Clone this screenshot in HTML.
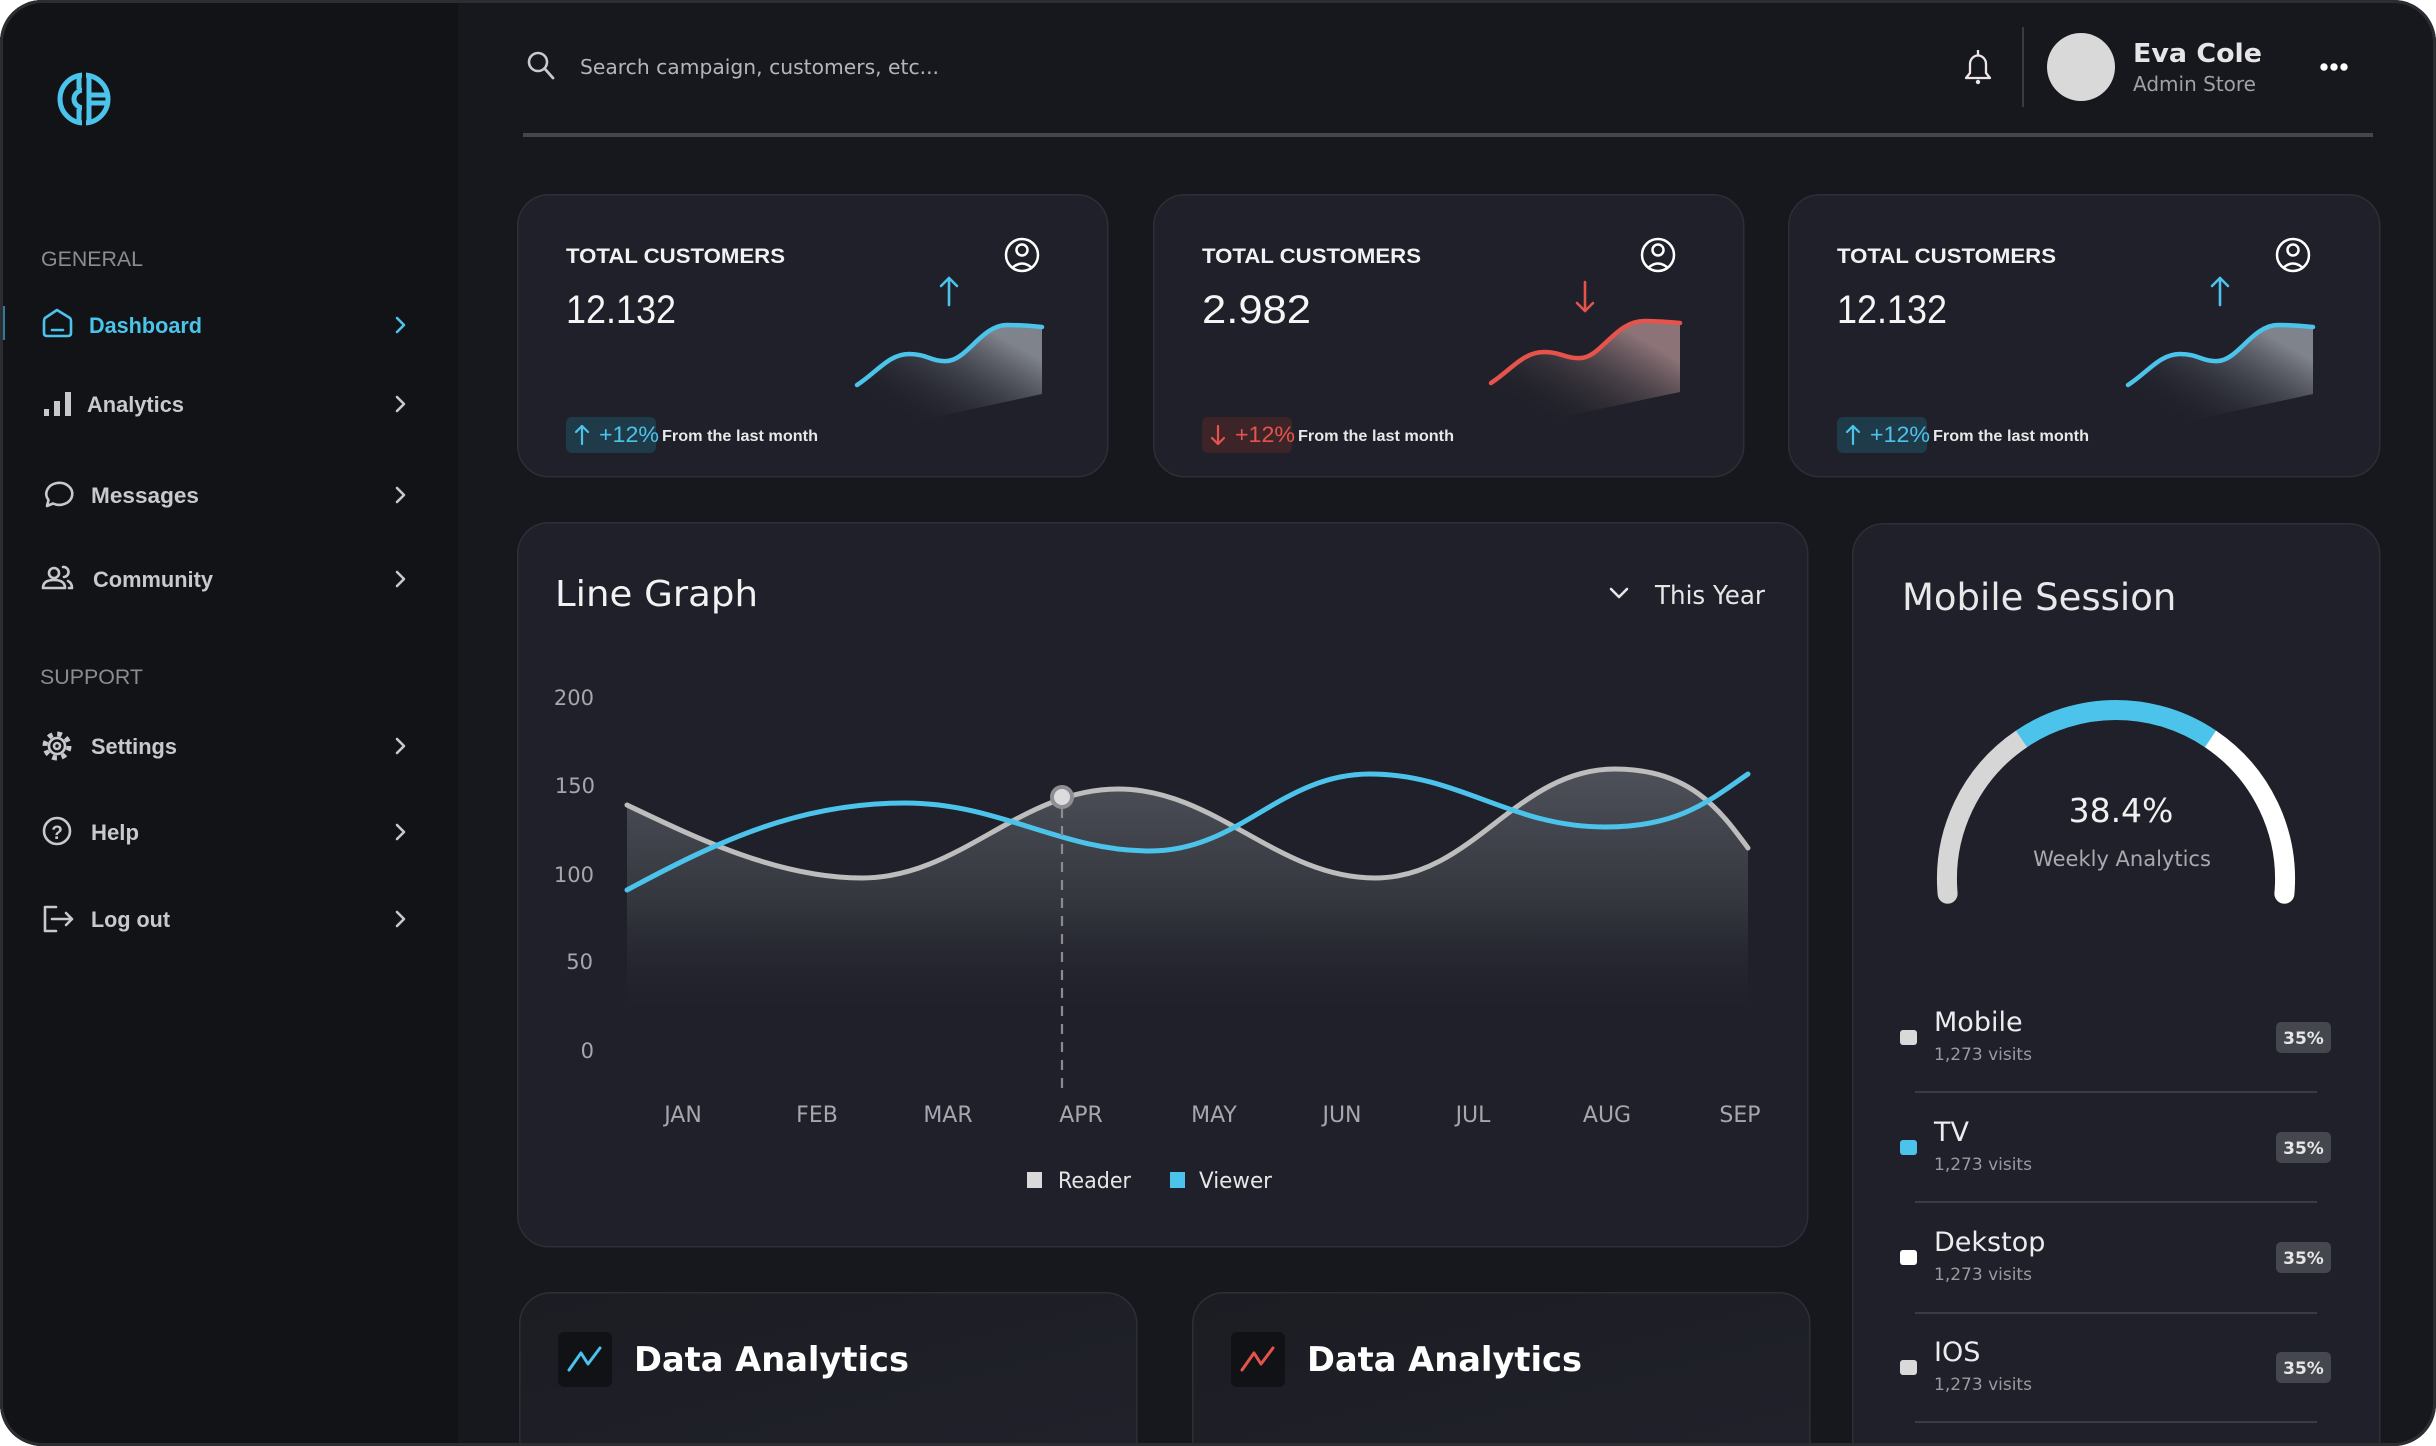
<!DOCTYPE html>
<html><head><meta charset="utf-8"><style>
html,body{margin:0;padding:0;background:#ffffff;overflow:hidden;width:2436px;height:1446px;}
svg{display:block}
</style></head><body>
<svg width="2436" height="1446" viewBox="0 0 2436 1446" xmlns="http://www.w3.org/2000/svg">
<defs>
<clipPath id="frame"><rect x="0" y="0" width="2436" height="1446" rx="42"/></clipPath>
<linearGradient id="area" gradientUnits="userSpaceOnUse" x1="0" y1="765" x2="0" y2="1025">
<stop offset="0" stop-color="#50525b"/><stop offset="0.55" stop-color="#33353d"/><stop offset="1" stop-color="#1f2029" stop-opacity="0"/>
</linearGradient>
<linearGradient id="sparkB" gradientUnits="userSpaceOnUse" x1="470" y1="135" x2="410" y2="240">
<stop offset="0" stop-color="#8a8e97" stop-opacity="0.9"/><stop offset="1" stop-color="#1f2029" stop-opacity="0"/>
</linearGradient>
<linearGradient id="sparkR" gradientUnits="userSpaceOnUse" x1="470" y1="135" x2="410" y2="240">
<stop offset="0" stop-color="#977c80" stop-opacity="0.9"/><stop offset="1" stop-color="#1f2029" stop-opacity="0"/>
</linearGradient>
<linearGradient id="botcard" x1="0" y1="0" x2="1" y2="1">
<stop offset="0" stop-color="#1c1d23"/><stop offset="1" stop-color="#20212a"/>
</linearGradient>
<clipPath id="uc"><circle cx="505" cy="61" r="16"/></clipPath>
</defs>

<g clip-path="url(#frame)">
<rect width="2436" height="1446" fill="#17181e"/>
<rect width="458" height="1446" fill="#121317"/>

<!-- logo -->
<g fill="none" stroke="#4cc3ea" stroke-width="5">
<circle cx="84" cy="99" r="24"/>
<path d="M84,108 A10,9 0 0 1 84,90"/>
<line x1="89" y1="95" x2="107" y2="95"/>
<line x1="89" y1="103" x2="107" y2="103"/>
<line x1="89" y1="77" x2="89" y2="121"/>
<line x1="79" y1="77" x2="79" y2="89"/>
<line x1="79" y1="109" x2="79" y2="121"/>
</g>
<rect x="82" y="70" width="4" height="58" fill="#121317"/>

<!-- sidebar nav -->
<g font-family="Liberation Sans, Arial, sans-serif">
<text x="41" y="266" font-size="21" fill="#8b8c91" textLength="102" lengthAdjust="spacingAndGlyphs">GENERAL</text>
<rect x="1" y="306" width="4" height="34" fill="#2e7d98"/>
<text x="89" y="333" font-size="22" font-weight="bold" fill="#4cc3ea" textLength="113" lengthAdjust="spacingAndGlyphs">Dashboard</text>
<text x="87" y="412" font-size="22" font-weight="bold" fill="#c8c9cc" textLength="97" lengthAdjust="spacingAndGlyphs">Analytics</text>
<text x="91" y="503" font-size="22" font-weight="bold" fill="#c8c9cc" textLength="108" lengthAdjust="spacingAndGlyphs">Messages</text>
<text x="93" y="587" font-size="22" font-weight="bold" fill="#c8c9cc" textLength="120" lengthAdjust="spacingAndGlyphs">Community</text>
<text x="40" y="684" font-size="21" fill="#8b8c91" textLength="103" lengthAdjust="spacingAndGlyphs">SUPPORT</text>
<text x="91" y="754" font-size="22" font-weight="bold" fill="#c8c9cc" textLength="86" lengthAdjust="spacingAndGlyphs">Settings</text>
<text x="91" y="840" font-size="22" font-weight="bold" fill="#c8c9cc" textLength="48" lengthAdjust="spacingAndGlyphs">Help</text>
<text x="91" y="927" font-size="22" font-weight="bold" fill="#c8c9cc" textLength="79" lengthAdjust="spacingAndGlyphs">Log out</text>
</g>
<g fill="none" stroke-width="2.6" stroke-linecap="round" stroke-linejoin="round">
<path d="M45,318 L57,310 L70,318 Q71,319 71,322 V333 Q71,336 68,336 H47 Q44,336 44,333 V322 Q44,319 45,318 Z" stroke="#4cc3ea"/>
<line x1="52" y1="330" x2="63" y2="330" stroke="#4cc3ea"/>
<polyline points="397,318 404,325 397,332" stroke="#4cc3ea"/>
<g stroke="#c8c9cc">
<path d="M47,506 L48.5,500 A13,11 0 1 1 53,503.5 Z"/>
<circle cx="54" cy="573" r="5"/>
<path d="M43,588 Q43,580 54,580 Q65,580 65,588 Z"/>
<path d="M63,567 A5,5 0 0 1 64,577"/>
<path d="M68,581 Q72,583 72,588 H69"/>
<circle cx="57" cy="746" r="8"/>
<circle cx="57" cy="746" r="12" stroke-width="5" stroke-dasharray="4.7 4.7" stroke-linecap="butt"/>
<circle cx="57" cy="746" r="3"/>
<circle cx="57" cy="831" r="13"/>
<path d="M56,907 H45 V931 H56"/>
<path d="M52,919 H72 M66,913 L72,919 L66,925"/>
<polyline points="397,397 404,404 397,411"/>
<polyline points="397,488 404,495 397,502"/>
<polyline points="397,572 404,579 397,586"/>
<polyline points="397,739 404,746 397,753"/>
<polyline points="397,825 404,832 397,839"/>
<polyline points="397,912 404,919 397,926"/>
</g>
</g>
<rect x="44" y="409" width="5" height="7" fill="#c8c9cc"/>
<rect x="54" y="401" width="6" height="15" fill="#c8c9cc"/>
<rect x="65" y="392" width="6" height="24" fill="#c8c9cc"/>
<text x="57" y="839" font-family="Liberation Sans, Arial, sans-serif" font-size="19" font-weight="bold" fill="#c8c9cc" text-anchor="middle">?</text>

<!-- header -->
<circle cx="538" cy="62" r="9" fill="none" stroke="#c8c9cc" stroke-width="2.6"/>
<line x1="545" y1="69" x2="553" y2="78" stroke="#c8c9cc" stroke-width="2.8" stroke-linecap="round"/>
<text x="580" y="74" font-family="DejaVu Sans, sans-serif" font-size="20" fill="#b4b5b9" textLength="359" lengthAdjust="spacingAndGlyphs">Search campaign, customers, etc...</text>
<g fill="none" stroke="#efe5e5" stroke-width="2.3" stroke-linejoin="round">
<path d="M1966,78 H1990 L1986,73 V64 A8,8.5 0 0 0 1970,64 V73 Z"/>
<line x1="1978" y1="50" x2="1978" y2="55"/>
</g>
<circle cx="1978" cy="82" r="2.2" fill="#efe5e5"/>
<rect x="2022" y="27" width="2" height="80" fill="#3a3b40"/>
<circle cx="2081" cy="67" r="34" fill="#d9d9d9"/>
<text x="2133" y="62" font-family="DejaVu Sans, sans-serif" font-weight="bold" font-size="26" fill="#e6e6e6" textLength="129" lengthAdjust="spacingAndGlyphs">Eva Cole</text>
<text x="2133" y="91" font-family="DejaVu Sans, sans-serif" font-size="20" fill="#a0a1a5" textLength="123" lengthAdjust="spacingAndGlyphs">Admin Store</text>
<circle cx="2324" cy="67" r="3.7" fill="#ffffff"/>
<circle cx="2334" cy="67" r="3.7" fill="#ffffff"/>
<circle cx="2344" cy="67" r="3.7" fill="#ffffff"/>
<rect x="523" y="133" width="1850" height="4" fill="#44464c"/>

<!-- KPI card 1 -->
<g transform="translate(517,194)">
<rect x="0.75" y="0.75" width="590" height="282" rx="31" fill="#1f2029" stroke="#2d2e36" stroke-width="1.5"/>
<text x="49" y="69" font-family="Liberation Sans, Arial, sans-serif" font-weight="bold" font-size="21" fill="#f2f2f2" textLength="219" lengthAdjust="spacingAndGlyphs">TOTAL CUSTOMERS</text>
<text x="49" y="129" font-family="Liberation Sans, Arial, sans-serif" font-size="40" fill="#f5f5f5" textLength="110" lengthAdjust="spacingAndGlyphs">12.132</text>
<g fill="none" stroke="#ffffff" stroke-width="2.5">
<circle cx="505" cy="61" r="16"/><circle cx="505" cy="56" r="5.5"/>
<path d="M493,76 Q505,63 517,76" clip-path="url(#uc)"/>
</g>
<g fill="none" stroke="#4cc3ea" stroke-width="2.6" stroke-linecap="round" stroke-linejoin="round">
<line x1="432" y1="84" x2="432" y2="111"/><polyline points="424,92 432,84 440,92"/>
</g>
<path d="M340,191 C360,178 372,160 392,160 C410,160 415,168 430,167 C450,166 465,131 490,131 C505,131 515,132 525,133 L525,200 L340,240 Z" fill="url(#sparkB)"/>
<path d="M340,191 C360,178 372,160 392,160 C410,160 415,168 430,167 C450,166 465,131 490,131 C505,131 515,132 525,133" fill="none" stroke="#4cc3ea" stroke-width="4.5" stroke-linecap="round"/>
<rect x="49" y="223" width="90" height="36" rx="6" fill="#1f3a48"/>
<g fill="none" stroke="#4cc3ea" stroke-width="2.2" stroke-linecap="round" stroke-linejoin="round">
<line x1="65" y1="232" x2="65" y2="250"/><polyline points="59,238 65,232 71,238"/>
</g>
<text x="82" y="248" font-family="Liberation Sans, Arial, sans-serif" font-size="22" fill="#4cc3ea" textLength="60" lengthAdjust="spacingAndGlyphs">+12%</text>
<text x="145" y="247" font-family="Liberation Sans, Arial, sans-serif" font-weight="bold" font-size="16" fill="#e8e8e8" textLength="156" lengthAdjust="spacingAndGlyphs">From the last month</text>
</g>

<!-- KPI card 2 -->
<g transform="translate(1153,194)">
<rect x="0.75" y="0.75" width="590" height="282" rx="31" fill="#1f2029" stroke="#2d2e36" stroke-width="1.5"/>
<text x="49" y="69" font-family="Liberation Sans, Arial, sans-serif" font-weight="bold" font-size="21" fill="#f2f2f2" textLength="219" lengthAdjust="spacingAndGlyphs">TOTAL CUSTOMERS</text>
<text x="49" y="129" font-family="Liberation Sans, Arial, sans-serif" font-size="40" fill="#f5f5f5" textLength="109" lengthAdjust="spacingAndGlyphs">2.982</text>
<g fill="none" stroke="#ffffff" stroke-width="2.5">
<circle cx="505" cy="61" r="16"/><circle cx="505" cy="56" r="5.5"/>
<path d="M493,76 Q505,63 517,76" clip-path="url(#uc)"/>
</g>
<g fill="none" stroke="#e5534b" stroke-width="2.6" stroke-linecap="round" stroke-linejoin="round">
<line x1="432" y1="88" x2="432" y2="117"/><polyline points="424,109 432,117 440,109"/>
</g>
<path d="M338,189 C358,176 370,158 391,158 C408,158 413,165 428,164 C448,163 463,127 491,127 C505,127 515,128 527,129 L527,198 L338,238 Z" fill="url(#sparkR)"/>
<path d="M338,189 C358,176 370,158 391,158 C408,158 413,165 428,164 C448,163 463,127 491,127 C505,127 515,128 527,129" fill="none" stroke="#e5534b" stroke-width="4.5" stroke-linecap="round"/>
<rect x="49" y="223" width="90" height="36" rx="6" fill="#3d2428"/>
<g fill="none" stroke="#e5534b" stroke-width="2.2" stroke-linecap="round" stroke-linejoin="round">
<line x1="65" y1="232" x2="65" y2="250"/><polyline points="59,244 65,250 71,244"/>
</g>
<text x="82" y="248" font-family="Liberation Sans, Arial, sans-serif" font-size="22" fill="#e5534b" textLength="60" lengthAdjust="spacingAndGlyphs">+12%</text>
<text x="145" y="247" font-family="Liberation Sans, Arial, sans-serif" font-weight="bold" font-size="16" fill="#e8e8e8" textLength="156" lengthAdjust="spacingAndGlyphs">From the last month</text>
</g>

<!-- KPI card 3 -->
<g transform="translate(1788,194)">
<rect x="0.75" y="0.75" width="591" height="282" rx="31" fill="#1f2029" stroke="#2d2e36" stroke-width="1.5"/>
<text x="49" y="69" font-family="Liberation Sans, Arial, sans-serif" font-weight="bold" font-size="21" fill="#f2f2f2" textLength="219" lengthAdjust="spacingAndGlyphs">TOTAL CUSTOMERS</text>
<text x="49" y="129" font-family="Liberation Sans, Arial, sans-serif" font-size="40" fill="#f5f5f5" textLength="110" lengthAdjust="spacingAndGlyphs">12.132</text>
<g fill="none" stroke="#ffffff" stroke-width="2.5">
<circle cx="505" cy="61" r="16"/><circle cx="505" cy="56" r="5.5"/>
<path d="M493,76 Q505,63 517,76" clip-path="url(#uc)"/>
</g>
<g fill="none" stroke="#4cc3ea" stroke-width="2.6" stroke-linecap="round" stroke-linejoin="round">
<line x1="432" y1="84" x2="432" y2="111"/><polyline points="424,92 432,84 440,92"/>
</g>
<path d="M340,191 C360,178 372,160 392,160 C410,160 415,168 430,167 C450,166 465,131 490,131 C505,131 515,132 525,133 L525,200 L340,240 Z" fill="url(#sparkB)"/>
<path d="M340,191 C360,178 372,160 392,160 C410,160 415,168 430,167 C450,166 465,131 490,131 C505,131 515,132 525,133" fill="none" stroke="#4cc3ea" stroke-width="4.5" stroke-linecap="round"/>
<rect x="49" y="223" width="90" height="36" rx="6" fill="#1f3a48"/>
<g fill="none" stroke="#4cc3ea" stroke-width="2.2" stroke-linecap="round" stroke-linejoin="round">
<line x1="65" y1="232" x2="65" y2="250"/><polyline points="59,238 65,232 71,238"/>
</g>
<text x="82" y="248" font-family="Liberation Sans, Arial, sans-serif" font-size="22" fill="#4cc3ea" textLength="60" lengthAdjust="spacingAndGlyphs">+12%</text>
<text x="145" y="247" font-family="Liberation Sans, Arial, sans-serif" font-weight="bold" font-size="16" fill="#e8e8e8" textLength="156" lengthAdjust="spacingAndGlyphs">From the last month</text>
</g>

<!-- Line graph card -->
<rect x="517.75" y="522.75" width="1290" height="724" rx="31" fill="#1f2029" stroke="#2d2e36" stroke-width="1.5"/>
<text x="555" y="606" font-family="DejaVu Sans, sans-serif" font-size="36" fill="#f2f2f2" textLength="203" lengthAdjust="spacingAndGlyphs">Line Graph</text>
<polyline points="1611,589 1619,597 1627,589" fill="none" stroke="#e6e6e6" stroke-width="2.6" stroke-linecap="round" stroke-linejoin="round"/>
<text x="1655" y="604" font-family="DejaVu Sans, sans-serif" font-size="26" fill="#e6e6e6" textLength="110" lengthAdjust="spacingAndGlyphs">This Year</text>
<g font-family="DejaVu Sans, sans-serif" font-size="21" fill="#a6a7ad" text-anchor="end">
<text x="594" y="705">200</text>
<text x="595" y="793">150</text>
<text x="594" y="882">100</text>
<text x="593" y="969">50</text>
<text x="594" y="1058">0</text>
</g>
<g font-family="DejaVu Sans, sans-serif" font-size="22" fill="#a6a7ad" text-anchor="middle">
<text x="683" y="1122">JAN</text>
<text x="817" y="1122">FEB</text>
<text x="948" y="1122">MAR</text>
<text x="1081" y="1122">APR</text>
<text x="1214" y="1122">MAY</text>
<text x="1342" y="1122">JUN</text>
<text x="1473" y="1122">JUL</text>
<text x="1607" y="1122">AUG</text>
<text x="1740" y="1122">SEP</text>
</g>
<path d="M627,805 C700,840 780,878 862,878 C960,878 1020,789 1118,789 C1216,789 1277,878 1375,878 C1473,878 1516,769 1615,769 C1690,769 1720,810 1748,848 L1748,1030 L627,1030 Z" fill="url(#area)"/>
<path d="M627,805 C700,840 780,878 862,878 C960,878 1020,789 1118,789 C1216,789 1277,878 1375,878 C1473,878 1516,769 1615,769 C1690,769 1720,810 1748,848" fill="none" stroke="#bdbdbd" stroke-width="5" stroke-linecap="round"/>
<path d="M627,890 C720,840 800,803 905,803 C1000,803 1060,851 1150,851 C1240,851 1280,774 1370,774 C1460,774 1510,827 1605,827 C1680,827 1710,800 1748,774" fill="none" stroke="#4cc3ea" stroke-width="5" stroke-linecap="round"/>
<line x1="1062" y1="808" x2="1062" y2="1090" stroke="#8a8b90" stroke-width="2.2" stroke-dasharray="10 8"/>
<circle cx="1062" cy="797" r="12" fill="#8e8f94"/>
<circle cx="1062" cy="797" r="8" fill="#dcdcdc"/>
<rect x="1027" y="1172" width="15" height="16" fill="#d9d9d9"/>
<text x="1058" y="1188" font-family="DejaVu Sans, sans-serif" font-size="22" fill="#e6e6e6" textLength="73" lengthAdjust="spacingAndGlyphs">Reader</text>
<rect x="1170" y="1172" width="15" height="16" fill="#4cc3ea"/>
<text x="1199" y="1188" font-family="DejaVu Sans, sans-serif" font-size="22" fill="#e6e6e6" textLength="73" lengthAdjust="spacingAndGlyphs">Viewer</text>

<!-- Mobile session card (open bottom, ends at frame edge) -->
<path d="M1852.75,1446 V554.75 A31,31 0 0 1 1883.75,523.75 H2348.75 A31,31 0 0 1 2379.75,554.75 V1446 Z" fill="#1f2029"/>
<path d="M1852.75,1446 V554.75 A31,31 0 0 1 1883.75,523.75 H2348.75 A31,31 0 0 1 2379.75,554.75 V1446" fill="none" stroke="#2d2e36" stroke-width="1.5"/>
<text x="1902" y="610" font-family="DejaVu Sans, sans-serif" font-size="37" fill="#e8e8ea">Mobile Session</text>
<path d="M1947.6,893.7 A169,169 0 0 1 2021.5,738.9" fill="none" stroke="#d6d6d6" stroke-width="20" stroke-linecap="round"/>
<path d="M2210.5,738.9 A169,169 0 0 1 2284.4,893.7" fill="none" stroke="#ffffff" stroke-width="20" stroke-linecap="round"/>
<path d="M2021.5,738.9 A169,169 0 0 1 2210.5,738.9" fill="none" stroke="#4cc3ea" stroke-width="20"/>
<text x="2121" y="822" font-family="DejaVu Sans, sans-serif" font-size="33" fill="#f0f0f0" text-anchor="middle">38.4%</text>
<text x="2122" y="866" font-family="DejaVu Sans, sans-serif" font-size="21" fill="#a9aaae" text-anchor="middle">Weekly Analytics</text>

<g font-family="DejaVu Sans, sans-serif">
<rect x="1900" y="1030" width="17" height="15" rx="3" fill="#d9d9d9"/>
<text x="1934" y="1031" font-size="27" fill="#ececee">Mobile</text>
<text x="1934" y="1060" font-size="17" fill="#9a9ba0">1,273 visits</text>
<rect x="2276" y="1022" width="55" height="31" rx="5" fill="#45474f"/>
<text x="2303.5" y="1044" font-size="17" font-weight="bold" fill="#e6e6e6" text-anchor="middle">35%</text>
<rect x="1915" y="1091" width="402" height="2" fill="#3a3c44"/>

<rect x="1900" y="1140" width="17" height="15" rx="3" fill="#4cc3ea"/>
<text x="1934" y="1141" font-size="27" fill="#ececee">TV</text>
<text x="1934" y="1170" font-size="17" fill="#9a9ba0">1,273 visits</text>
<rect x="2276" y="1132" width="55" height="31" rx="5" fill="#45474f"/>
<text x="2303.5" y="1154" font-size="17" font-weight="bold" fill="#e6e6e6" text-anchor="middle">35%</text>
<rect x="1915" y="1201" width="402" height="2" fill="#3a3c44"/>

<rect x="1900" y="1250" width="17" height="15" rx="3" fill="#ffffff"/>
<text x="1934" y="1251" font-size="27" fill="#ececee">Dekstop</text>
<text x="1934" y="1280" font-size="17" fill="#9a9ba0">1,273 visits</text>
<rect x="2276" y="1242" width="55" height="31" rx="5" fill="#45474f"/>
<text x="2303.5" y="1264" font-size="17" font-weight="bold" fill="#e6e6e6" text-anchor="middle">35%</text>
<rect x="1915" y="1312" width="402" height="2" fill="#3a3c44"/>

<rect x="1900" y="1360" width="17" height="15" rx="3" fill="#d9d9d9"/>
<text x="1934" y="1361" font-size="27" fill="#ececee">IOS</text>
<text x="1934" y="1390" font-size="17" fill="#9a9ba0">1,273 visits</text>
<rect x="2276" y="1352" width="55" height="31" rx="5" fill="#45474f"/>
<text x="2303.5" y="1374" font-size="17" font-weight="bold" fill="#e6e6e6" text-anchor="middle">35%</text>
<rect x="1915" y="1421" width="402" height="2" fill="#3a3c44"/>
</g>

<!-- Bottom cards (open bottom) -->
<path d="M519.75,1446 V1323.75 A31,31 0 0 1 550.75,1292.75 H1105.75 A31,31 0 0 1 1136.75,1323.75 V1446 Z" fill="url(#botcard)"/>
<path d="M519.75,1446 V1323.75 A31,31 0 0 1 550.75,1292.75 H1105.75 A31,31 0 0 1 1136.75,1323.75 V1446" fill="none" stroke="#2e2f35" stroke-width="1.5"/>
<rect x="558" y="1332" width="54" height="55" rx="6" fill="#111216"/>
<polyline points="569,1370 581,1353 588,1364 600,1348" fill="none" stroke="#4cc3ea" stroke-width="3" stroke-linejoin="round" stroke-linecap="round"/>
<text x="634" y="1371" font-family="DejaVu Sans, sans-serif" font-weight="bold" font-size="34" fill="#ffffff" textLength="275" lengthAdjust="spacingAndGlyphs">Data Analytics</text>

<path d="M1192.75,1446 V1323.75 A31,31 0 0 1 1223.75,1292.75 H1778.75 A31,31 0 0 1 1809.75,1323.75 V1446 Z" fill="url(#botcard)"/>
<path d="M1192.75,1446 V1323.75 A31,31 0 0 1 1223.75,1292.75 H1778.75 A31,31 0 0 1 1809.75,1323.75 V1446" fill="none" stroke="#2e2f35" stroke-width="1.5"/>
<rect x="1231" y="1332" width="54" height="55" rx="6" fill="#111216"/>
<polyline points="1242,1370 1254,1353 1261,1364 1273,1348" fill="none" stroke="#e5534b" stroke-width="3" stroke-linejoin="round" stroke-linecap="round"/>
<text x="1307" y="1371" font-family="DejaVu Sans, sans-serif" font-weight="bold" font-size="34" fill="#ffffff" textLength="275" lengthAdjust="spacingAndGlyphs">Data Analytics</text>
</g>

<rect x="1.5" y="1.5" width="2433" height="1443" rx="41" fill="none" stroke="#2c2d31" stroke-width="3"/>
</svg>
</body></html>
